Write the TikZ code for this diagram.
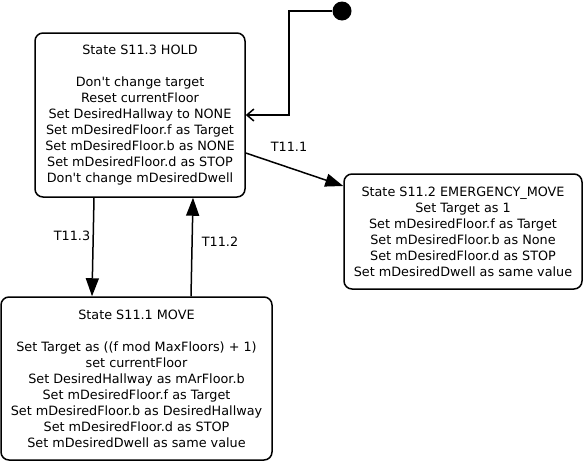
\documentclass[tikz,border=0pt]{standalone}
\usepackage{fontspec}
\setmainfont{DejaVu Sans}
\usetikzlibrary{arrows.meta,calc}
\begin{document}
\begin{tikzpicture}[x=1pt,y=-1pt,
  state/.style={draw,line width=1.5pt,rounded corners=8pt,align=center,
    font=\fontsize{12.8}{16}\selectfont,inner sep=0pt},
  trans/.style={line width=1.5pt,-{Triangle[length=18pt,width=13pt]}},
  lbl/.style={font=\fontsize{12.8}{14}\selectfont,inner sep=0pt}]
\useasboundingbox (0,0) rectangle (583,461);
\node[state,minimum width=210pt,minimum height=164pt] (hold) at (140,115)
  {State S11.3 HOLD\\[16pt]Don\textquotesingle t change target\\Reset currentFloor\\Set DesiredHallway to NONE\\Set mDesiredFloor.f as Target\\Set mDesiredFloor.b as NONE\\Set mDesiredFloor.d as STOP\\Don\textquotesingle t change mDesiredDwell};
\node[state,minimum width=238pt,minimum height=115pt] (emer) at (463,231.5)
  {State S11.2 EMERGENCY\_MOVE\\Set Target as 1\\Set mDesiredFloor.f as Target\\Set mDesiredFloor.b as None\\Set mDesiredFloor.d as STOP\\Set mDesiredDwell as same value};
\node[state,minimum width=271pt,minimum height=163pt] (move) at (136.5,378.5)
  {State S11.1 MOVE\\[16pt]Set Target as ((f mod MaxFloors) + 1)\\set currentFloor\\Set DesiredHallway as mArFloor.b\\Set mDesiredFloor.f as Target\\Set mDesiredFloor.b as DesiredHallway\\Set mDesiredFloor.d as STOP\\Set mDesiredDwell as same value};
\node[circle,fill,minimum size=19pt,inner sep=0pt] (init) at (342,11) {};
\coordinate (c1) at (289,11);
\coordinate (c2) at (289,115);
\draw[line width=1.5pt,-{Straight Barb[length=7pt,width=12pt]}] (init) -- (c1) -- (c2) -- (hold.east);
\draw[trans] ($(hold.east)+(0,38)$) -- ($(emer.west)+(0,-45.5)$);
\draw[trans] ($(hold.south)+(-46,0)$) -- ($(move.north)+(-44.5,0)$);
\draw[trans] ($(move.north)+(54.5,0)$) -- ($(hold.south)+(53,0)$);
\node[lbl] (l1) at (289,147) {T11.1};
\node[lbl] (l3) at (72,236) {T11.3};
\node[lbl] (l2) at (220,242) {T11.2};
\end{tikzpicture}
\end{document}
